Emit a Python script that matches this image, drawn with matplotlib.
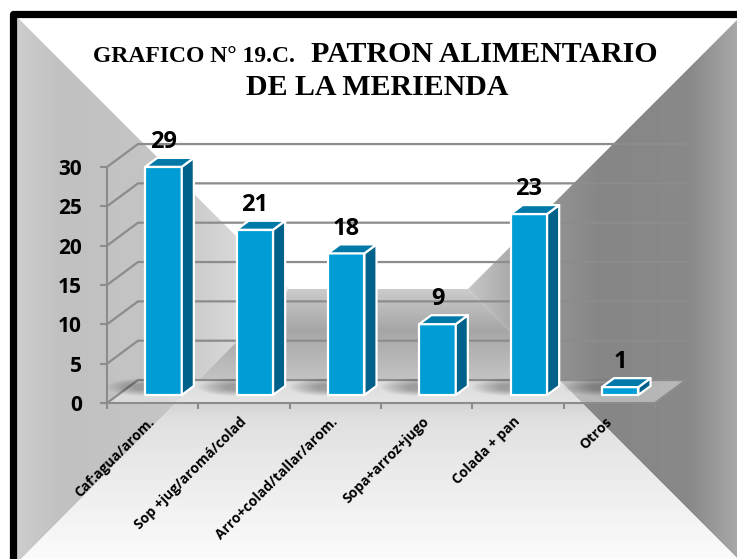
import numpy as np
import matplotlib.pyplot as plt
from matplotlib.patches import Polygon, Ellipse
from matplotlib.colors import LinearSegmentedColormap

categories = ['Caf:agua/arom.', 'Sop +jug/aromá/colad', 'Arro+colad/tallar/arom.',
              'Sopa+arroz+jugo', 'Colada + pan', 'Otros']
values = [29, 21, 18, 9, 23, 1]
yticks = [0, 5, 10, 15, 20, 25, 30]

W, H = 737, 559
fig = plt.figure(figsize=(W / 100, H / 100), dpi=100)
fig.patch.set_facecolor('white')

# ---- background "room" (pixel coordinates) ----
bg = fig.add_axes([0, 0, 1, 1], zorder=0)
bg.set_xlim(0, W)
bg.set_ylim(H, 0)
bg.axis('off')


def gradient(poly, stops, horizontal=True):
    xs, ys = zip(*poly)
    x0, x1, y0, y1 = min(xs), max(xs), min(ys), max(ys)
    lo, hi = (x0, x1) if horizontal else (y0, y1)
    cmap = LinearSegmentedColormap.from_list(
        'g', [((p - lo) / (hi - lo), c) for p, c in stops])
    g = np.linspace(0, 1, 512)
    img = g.reshape(1, -1) if horizontal else g.reshape(-1, 1)
    patch = Polygon(poly, closed=True, fc='none', ec='none')
    bg.add_patch(patch)
    im = bg.imshow(img, cmap=cmap, extent=(x0, x1, y1, y0), origin='upper',
                   aspect='auto', interpolation='bilinear')
    im.set_clip_path(patch)


# left wall
gradient([(17, 17), (289, 289), (17, 563)],
         [(17, '#cdcdcd'), (60, '#c1c1c1'), (170, '#c5c5c5'), (289, '#e8e8e8')])
# right wall
gradient([(740, 17), (468, 289), (740, 561)],
         [(468, '#c6c6c6'), (540, '#979797'), (600, '#868686'), (690, '#898989'), (740, '#aaaaaa')])
# floor
gradient([(289, 289), (468, 289), (740, 561), (17, 563)],
         [(289, '#cbcbcb'), (330, '#a6a6a6'), (380, '#c4c4c4'), (420, '#e0e0e0'),
          (480, '#ececec'), (563, '#fcfcfc')], horizontal=False)

# black frame
bg.plot([13.5, 13.5, W], [H, 13.5, 13.5], color='black', lw=5.2,
        solid_joinstyle='round', solid_capstyle='butt')

# title
serif = 'Liberation Serif'
bg.text(295, 62, 'GRAFICO N° 19.C.', ha='right', va='baseline', fontsize=17,
        fontweight='bold', family=serif)
bg.text(311, 62, 'PATRON ALIMENTARIO', ha='left', va='baseline', fontsize=21.5,
        fontweight='bold', family=serif)
bg.text(377, 95, 'DE LA MERIENDA', ha='center', va='baseline', fontsize=21.5,
        fontweight='bold', family=serif)

# ---- chart (data coordinates, front plane = axes box) ----
ax = fig.add_axes([107 / W, (H - 403) / H, 548 / W, 236 / H], zorder=1)
ax.set_xlim(0, 6)
ax.set_ylim(0, 30)
ax.patch.set_alpha(0)
for s in ['top', 'right']:
    ax.spines[s].set_visible(False)
for s in ['left', 'bottom']:
    ax.spines[s].set_color('#8c8c8c')
    ax.spines[s].set_linewidth(1.5)

DX, DY = 0.339, 2.92          # full depth offset
d0, d1 = 0.35, 0.74           # bar depth range
n = len(values)

# floor of the chart
ax.add_patch(Polygon([(0, 0), (n, 0), (n + DX, DY), (DX, DY)], closed=True,
                     fc='white', alpha=0.4, ec='none', clip_on=False, zorder=1))
ax.plot([n, n + DX], [0, DY], color='#8c8c8c', lw=1.5, clip_on=False, zorder=2)

# gridlines (side wall + back wall)
for v in yticks:
    ax.plot([0, DX, n + DX], [v, v + DY, v + DY], color='#8c8c8c', lw=1.6,
            clip_on=False, zorder=2)

# bars
ddx, ddy = (d1 - d0) * DX, (d1 - d0) * DY
for i, v in enumerate(values):
    x0 = i + 0.3 + d0 * DX
    x1 = x0 + 0.4
    yb = d0 * DY
    yt = yb + v
    cx = (x0 + x1) / 2
    # soft shadow
    for k in range(9):
        ax.add_patch(Ellipse((cx - 0.22, yb + 1.0), 0.8 - k * 0.07, 2.2 - k * 0.18,
                             fc='black', ec='none', alpha=0.035, clip_on=False, zorder=3))
    style = dict(ec='white', lw=1.6, joinstyle='round', clip_on=False, zorder=5)
    ax.add_patch(Polygon([(x0, yb), (x1, yb), (x1, yt), (x0, yt)], fc='#009cd6', **style))
    ax.add_patch(Polygon([(x1, yb), (x1 + ddx, yb + ddy), (x1 + ddx, yt + ddy), (x1, yt)],
                         fc='#00628a', **style))
    ax.add_patch(Polygon([(x0, yt), (x1, yt), (x1 + ddx, yt + ddy), (x0 + ddx, yt + ddy)],
                         fc='#0079a9', **style))
    ax.annotate(str(v), xy=(cx, yt), xytext=(0, 13.5), textcoords='offset points',
                ha='center', va='baseline', fontsize=17, fontweight='bold',
                family='Open Sans', annotation_clip=False, zorder=6)

# axes ticks
ax.set_yticks(yticks)
ax.set_yticklabels([str(t) for t in yticks], fontsize=15, fontweight='bold', family='Open Sans')
ax.tick_params(axis='y', length=5, width=1.5, color='#8c8c8c', pad=13)
ax.set_xticks(range(n + 1))
ax.set_xticklabels([])
ax.tick_params(axis='x', which='major', length=4, width=1.5, color='#8c8c8c')
ax.set_xticks([i + 0.5 for i in range(n)], minor=True)
ax.set_xticklabels(categories, minor=True, rotation=45, ha='right', va='center',
                   rotation_mode='anchor', fontsize=10, fontweight='bold', family='Open Sans')
ax.tick_params(axis='x', which='minor', length=0, pad=12)

fig.savefig('out.png', dpi=100)
